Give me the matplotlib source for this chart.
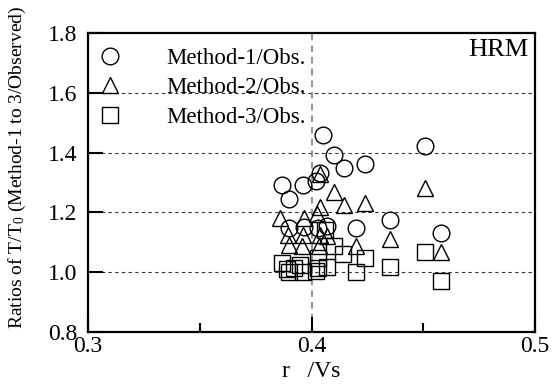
import numpy as np
import matplotlib
matplotlib.use('Agg')
from matplotlib import pyplot as plt

plt.rcParams['font.family'] = ['Liberation Serif', 'DejaVu Serif']
plt.rcParams['mathtext.fontset'] = 'custom'
plt.rcParams['mathtext.rm'] = 'Liberation Serif'
plt.rcParams['mathtext.it'] = 'Liberation Serif:italic'

# Method-1/Obs. (circles)
x1 = [0.405, 0.410, 0.4145, 0.424, 0.451, 0.404, 0.402, 0.396, 0.387, 0.390,
      0.435, 0.458, 0.420, 0.390, 0.3966, 0.403, 0.407]
y1 = [1.458, 1.391, 1.347, 1.361, 1.422, 1.333, 1.304, 1.293, 1.291, 1.244,
      1.174, 1.131, 1.147, 1.149, 1.152, 1.149, 1.156]

# Method-2/Obs. (triangles)
x2 = [0.404, 0.410, 0.4145, 0.424, 0.451, 0.404, 0.386, 0.3966, 0.4025,
      0.435, 0.458, 0.420, 0.390, 0.3958, 0.4033, 0.3895, 0.3962, 0.4038,
      0.407]
y2 = [1.330, 1.267, 1.224, 1.233, 1.280, 1.219, 1.182, 1.180, 1.195,
      1.111, 1.066, 1.086, 1.091, 1.086, 1.086, 1.124, 1.124, 1.124,
      1.120]

# Method-3/Obs. (squares)
x3 = [0.451, 0.458, 0.424, 0.420, 0.435, 0.410, 0.407, 0.403, 0.403, 0.387,
      0.390, 0.395, 0.396, 0.392, 0.406, 0.414, 0.389, 0.402]
y3 = [1.069, 0.969, 1.047, 1.002, 1.017, 1.086, 1.019, 1.047, 1.013, 1.030,
      1.002, 1.024, 1.002, 1.015, 1.141, 1.060, 1.010, 1.005]

labels = ['Method-1/Obs.', 'Method-2/Obs.', 'Method-3/Obs.']

fig = plt.figure(figsize=(5.55, 3.85), dpi=100)
ax = fig.add_axes([88 / 555, 53 / 385, 447 / 555, 299 / 385])

# grid lines
for yv in [1.0, 1.2, 1.4, 1.6]:
    ax.axhline(yv, color='#333333', lw=0.8, dashes=(3, 3), zorder=1)
ax.axvline(0.4, color='#808080', lw=1.2, dashes=(4, 3), zorder=1)

mk = dict(mfc='none', mec='black', mew=1.0, ls='none', zorder=3)
ax.plot(x1, y1, 'o', ms=12, label=labels[0], **mk)
ax.plot(x2, y2, '^', ms=11.5, label=labels[1], **mk)
ax.plot(x3, y3, 's', ms=11.5, label=labels[2], **mk)

ax.set_xlim(0.3, 0.5)
ax.set_ylim(0.8, 1.8)
ax.set_xticks([0.3, 0.4, 0.5])
ax.set_xticklabels(['0.3', '0.4', '0.5'])
ax.set_xticks([0.35, 0.45], minor=True)
ax.set_yticks([0.8, 1.0, 1.2, 1.4, 1.6, 1.8])
ax.set_yticklabels(['0.8', '1.0', '1.2', '1.4', '1.6', '1.8'])
ax.tick_params(axis='both', which='major', direction='in', labelsize=17,
               width=1.5, top=False, right=False)
ax.tick_params(axis='x', which='major', length=11, pad=3)
ax.tick_params(axis='y', which='major', length=11, pad=7.5)
ax.tick_params(axis='x', which='minor', direction='in', length=6.5,
               width=1.5, top=False)
for s in ax.spines.values():
    s.set_linewidth(1.6)

ax.set_xlabel('r   /Vs', fontsize=17, labelpad=3)
ax.set_ylabel('Ratios of T/T$_0$ (Method-1 to 3/Observed)', fontsize=14)
ax.yaxis.set_label_coords(-0.135, 0.55)

ax.text(0.985, 0.98, 'HRM', transform=ax.transAxes, fontsize=19,
        ha='right', va='top')

ax.legend(loc='upper left', bbox_to_anchor=(0.0246, 0.95), frameon=False,
          fontsize=16.5, handlelength=1.0, handletextpad=1.95, borderpad=0,
          borderaxespad=0, labelspacing=0.36, numpoints=1)

fig.savefig('out.png', dpi=100)
